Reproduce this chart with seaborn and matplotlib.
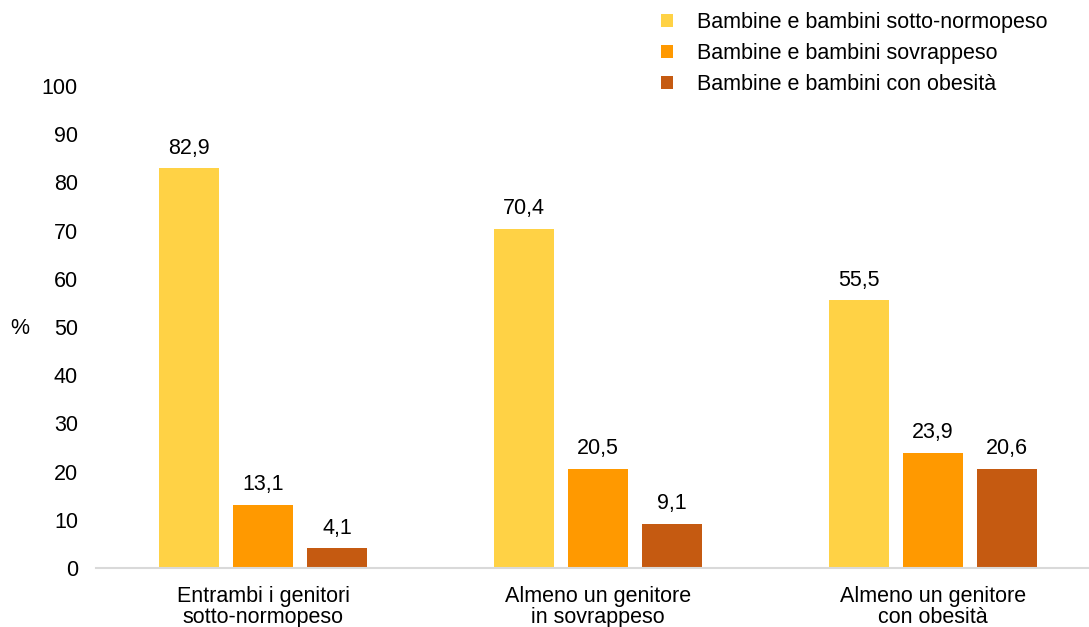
import matplotlib
matplotlib.use("Agg")
import matplotlib.pyplot as plt
import seaborn as sns
import pandas as pd
from matplotlib.patches import Patch

categories = ["Entrambi i genitori\nsotto-normopeso",
              "Almeno un genitore\nin sovrappeso",
              "Almeno un genitore\ncon obesità"]
series_names = ["Bambine e bambini sotto-normopeso",
                "Bambine e bambini sovrappeso",
                "Bambine e bambini con obesità"]
normopeso = [82.9, 70.4, 55.5]
sovrappeso = [13.1, 20.5, 23.9]
obesita = [4.1, 9.1, 20.6]
colors = ["#FFD245", "#FF9900", "#C55A11"]
y_ticks = [0, 10, 20, 30, 40, 50, 60, 70, 80, 90, 100]

sns.set_theme(style="white")
plt.rcParams["font.family"] = ["Liberation Sans", "DejaVu Sans"]
plt.rcParams["text.color"] = "#000000"
plt.rcParams["xtick.color"] = "#000000"
plt.rcParams["ytick.color"] = "#000000"

FS = 15.5

rows = []
for name, vals in zip(series_names, [normopeso, sovrappeso, obesita]):
    for cat, v in zip(categories, vals):
        rows.append({"cat": cat, "serie": name, "val": v})
df = pd.DataFrame(rows)

fig = plt.figure(figsize=(10.89, 6.27), dpi=100)
ax = fig.add_axes([96 / 1089, 1 - 568 / 627, (1089 - 96) / 1089, (568 - 86) / 627])

sns.barplot(data=df, x="cat", y="val", hue="serie", order=categories,
            hue_order=series_names, palette=colors, width=0.663, gap=0.19,
            saturation=1, ax=ax, legend=False, edgecolor="none")

for cont in ax.containers:
    labels = [f"{b.get_height():.1f}".replace(".", ",") for b in cont]
    ax.bar_label(cont, labels=labels, padding=7, fontsize=FS, color="#000000")

ax.set_ylim(0, 100)
ax.set_xlim(-0.5, (1089 - 263) / 335)
ax.set_yticks(y_ticks)
ax.set_yticklabels([str(t) for t in y_ticks], fontsize=FS)
ax.tick_params(axis="y", length=0, pad=13, labelcolor="#000000")
ax.tick_params(axis="x", length=0, pad=13, labelsize=FS, labelcolor="#000000")
for t in ax.get_xticklabels():
    t.set_linespacing(1.0)
ax.set_xlabel("")
ax.set_ylabel("")
fig.text(20 / 1089, 1 - 329 / 627, "%", fontsize=FS, ha="center", va="center",
         color="#000000")

for s in ["top", "right", "left"]:
    ax.spines[s].set_visible(False)
ax.spines["bottom"].set_color("#D9D9D9")
ax.spines["bottom"].set_linewidth(1.5)
ax.grid(False)

handles = [Patch(facecolor=c, edgecolor="none") for c in colors]
leg = fig.legend(handles, series_names, loc="upper left",
                 bbox_to_anchor=(642 / 1089, 1 + 7 / 627), frameon=False,
                 fontsize=FS, handlelength=0.55, handleheight=0.55,
                 handletextpad=1.1, labelspacing=0.45)
for t in leg.get_texts():
    t.set_color("#000000")

fig.savefig("out.png", dpi=100)
